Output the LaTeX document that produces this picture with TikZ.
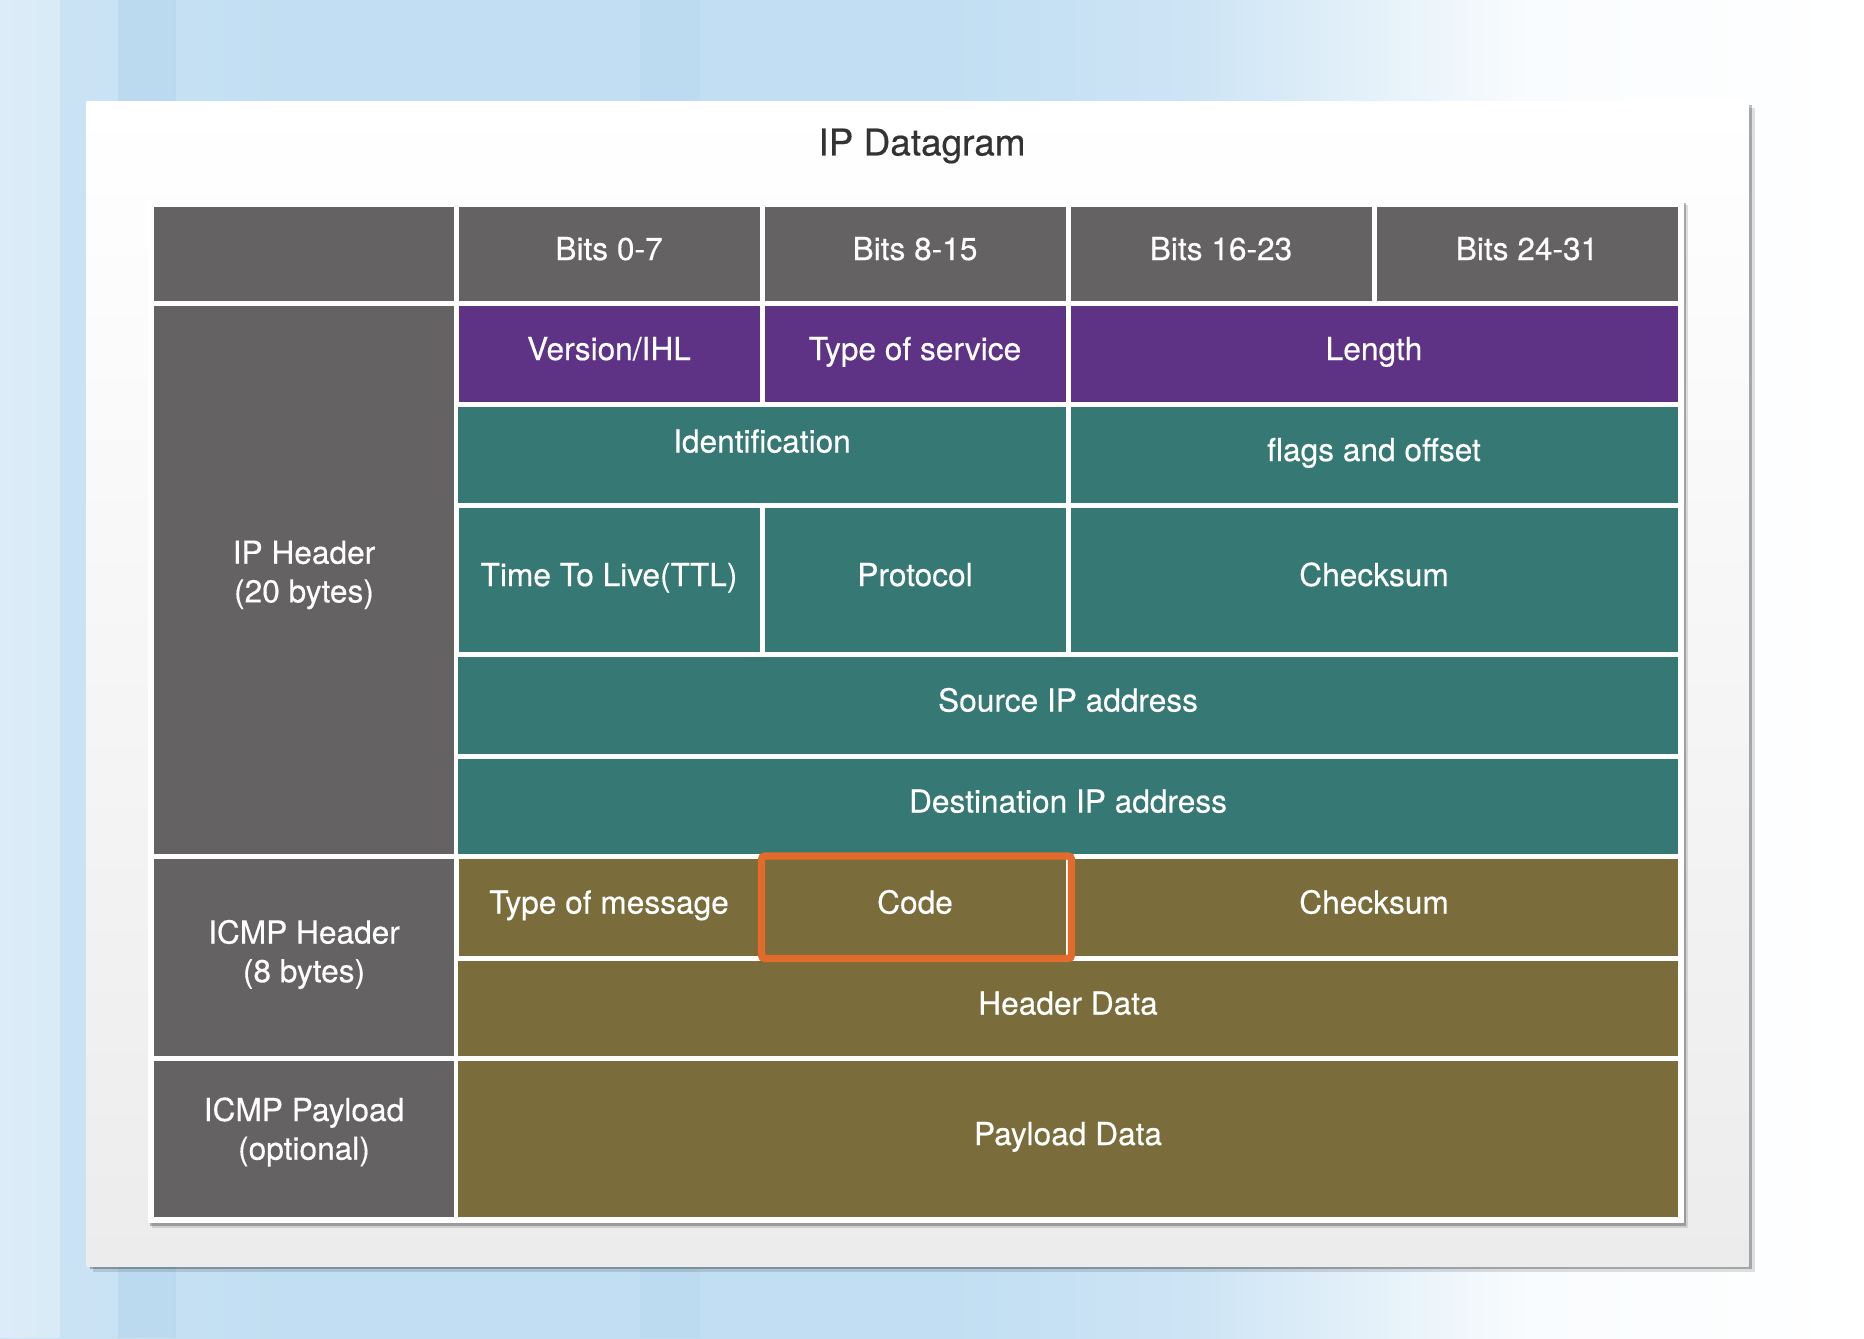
\documentclass[tikz,border=0pt]{standalone}
\usepackage{fontspec}
\setmainfont{TeX Gyre Heros}[FakeBold=0.4]
\usetikzlibrary{positioning,shadows}
\definecolor{bgblue}{RGB}{193,222,242}
\definecolor{bgpale}{RGB}{205,228,245}
\definecolor{bgdark}{RGB}{176,212,238}
\definecolor{cardgray}{RGB}{236,236,236}
\definecolor{pktgray}{RGB}{100,98,99}
\definecolor{pktpurple}{RGB}{94,51,133}
\definecolor{pktteal}{RGB}{54,120,115}
\definecolor{pktolive}{RGB}{122,109,59}
\definecolor{hiorange}{RGB}{226,106,42}
\definecolor{titlegray}{RGB}{51,51,51}
\pgfdeclarehorizontalshading{bgfade}{100bp}{color(0bp)=(bgpale); color(25bp)=(bgpale);
  color(33bp)=(bgblue); color(50bp)=(bgblue); color(57bp)=(bgpale);
  color(66bp)=(white!90!bgblue); color(75bp)=(white); color(100bp)=(white)}
\newcommand{\pktcell}[7]{%
  \pgfmathsetmacro{\pktw}{(#4-#2-5)*0.01}%
  \pgfmathsetmacro{\pkth}{(#5-#3-5)*0.01}%
  \node[pkt, #6, minimum width=\pktw cm, minimum height=\pkth cm] (#1)
    at ({(#2+#4)/2},{(#3+#5)/2}) {#7};}
\tikzset{
  pkt/.style={inner sep=0pt, outer sep=0pt, align=center, text=white,
    font=\fontsize{9}{11}\selectfont},
  line/.style={text height=0.24cm, text depth=0.11cm},
  gcell/.style={fill=pktgray},
  glab/.style={fill=pktgray, text depth=0.16cm},
  pcell/.style={fill=pktpurple, line},
  tcell/.style={fill=pktteal, line},
  ocell/.style={fill=pktolive, line},
  card/.style={inner sep=0pt, top color=white, bottom color=cardgray,
    drop shadow={shadow xshift=0.03cm, shadow yshift=-0.03cm, opacity=0.25, fill=black},
    drop shadow={shadow xshift=0.06cm, shadow yshift=-0.06cm, opacity=0.12, fill=black}},
  tblbase/.style={fill=white, inner sep=0pt,
    drop shadow={shadow xshift=0.02cm, shadow yshift=-0.03cm, opacity=0.25, fill=black},
    drop shadow={shadow xshift=0.04cm, shadow yshift=-0.05cm, opacity=0.12, fill=black}},
  ttl/.style={font=\fontsize{10.5}{12}\selectfont, text=titlegray},
  hilite/.style={draw=hiorange, line width=2.1pt, rounded corners=1pt},
}
\begin{document}
\begin{tikzpicture}[x=0.01cm, y=-0.01cm]
\useasboundingbox (0,0) rectangle (1864,1338);
% backdrop
\shade[shading=bgfade] (0,0) rectangle (1864,1338);
\fill[bgdark, opacity=0.5] (118,0) rectangle (176,1338);
\fill[bgdark, opacity=0.25] (640,0) rectangle (700,1338);
\fill[white, opacity=0.3] (0,0) rectangle (60,1338);
\node[card, minimum width=16.61cm, minimum height=11.64cm] (card) at (917.5,684) {};
\node[ttl] (title) at (922,146) {IP Datagram};
\node[tblbase, minimum width=15.36cm, minimum height=10.23cm] (tbl) at (916,711.5) {};
% bit columns
\pktcell{corner}{152}{204}{456}{303}{gcell}{}
\pktcell{bitsa}{456}{204}{762}{303}{gcell, line}{Bits 0-7}
\pktcell{bitsb}{762}{204}{1068}{303}{gcell, line}{Bits 8-15}
\pktcell{bitsc}{1068}{204}{1374}{303}{gcell, line}{Bits 16-23}
\pktcell{bitsd}{1374}{204}{1680}{303}{gcell, line}{Bits 24-31}
% IP header
\pktcell{iphdr}{152}{303}{456}{856}{glab}{IP Header\\(20 bytes)}
\pktcell{ver}{456}{303}{762}{404}{pcell}{Version/IHL}
\pktcell{tos}{762}{303}{1068}{404}{pcell}{Type of service}
\pktcell{len}{1068}{303}{1680}{404}{pcell}{Length}
\pktcell{ident}{456}{404}{1068}{505}{tcell, text depth=0.28cm}{Identification}
\pktcell{flags}{1068}{404}{1680}{505}{tcell}{flags and offset}
\pktcell{ttl}{456}{505}{762}{654}{tcell}{Time To Live(TTL)}
\pktcell{proto}{762}{505}{1068}{654}{tcell}{Protocol}
\pktcell{ipsum}{1068}{505}{1680}{654}{tcell}{Checksum}
\pktcell{src}{456}{654}{1680}{756}{tcell}{Source IP address}
\pktcell{dst}{456}{756}{1680}{856}{tcell}{Destination IP address}
% ICMP header and payload
\pktcell{icmphdr}{152}{856}{456}{1058}{glab, text depth=0.12cm}{ICMP Header\\(8 bytes)}
\pktcell{msgtype}{456}{856}{762}{958}{ocell}{Type of message}
\pktcell{code}{762}{856}{1068}{958}{ocell}{Code}
\pktcell{icmpsum}{1068}{856}{1680}{958}{ocell}{Checksum}
\pktcell{hdrdata}{456}{958}{1680}{1058}{ocell}{Header Data}
\pktcell{icmppay}{152}{1058}{456}{1219}{glab, text depth=0.2cm}{ICMP Payload\\(optional)}
\pktcell{paydata}{456}{1058}{1680}{1219}{ocell}{Payload Data}
\draw[hilite] ([xshift=-0.03cm, yshift=0.025cm]code.north west)
  rectangle ([xshift=0.06cm, yshift=-0.03cm]code.south east);
\end{tikzpicture}
\end{document}
